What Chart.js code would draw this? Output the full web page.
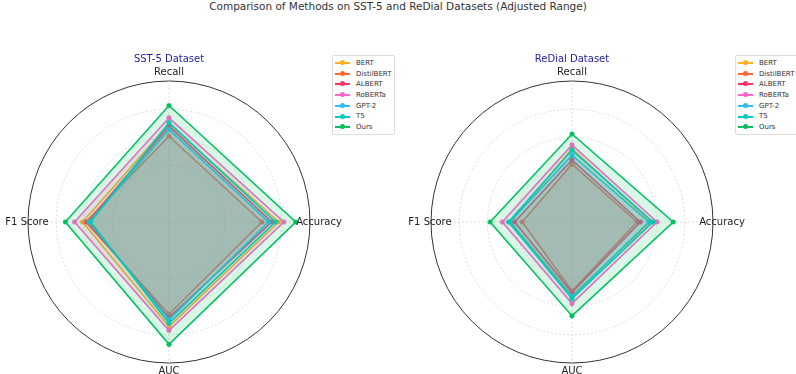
<!DOCTYPE html>
<html>
<head>
<meta charset="utf-8">
<script src="https://cdn.jsdelivr.net/npm/chart.js@4.4.1/dist/chart.umd.min.js"></script>
<style>
  body { margin: 0; background: #fff; font-family: "DejaVu Sans", sans-serif; }
  #page { position: relative; width: 796px; height: 374px; overflow: hidden; }
  .box { position: absolute; top: 0; width: 398px; height: 374px; }
  #title { position: absolute; left: 0; top: 0; width: 796px; text-align: center; font-size: 10.5px; color: #333; }
  .sub { position: absolute; width: 200px; text-align: center; font-size: 10px; color: #1f1f9a; }
  .legend { position: absolute; border: 1px solid #ddd; border-radius: 2px; background: #fff; padding: 2px 3px 1px 2px; font-size: 7px; color: #333; }
  .row { height: 10.7px; line-height: 10.7px; white-space: nowrap; }
  .sw { position: relative; display: inline-block; width: 15px; height: 2px; vertical-align: middle; margin-right: 6px; }
  .dot { position: absolute; left: 5px; top: -2px; width: 5px; height: 5px; border-radius: 50%; }
</style>
</head>
<body>
<div id="page">
  <div id="title">Comparison of Methods on SST-5 and ReDial Datasets (Adjusted Range)</div>
  <div class="box" style="left:0"><canvas id="c1"></canvas></div>
  <div class="box" style="left:398px"><canvas id="c2"></canvas></div>
  <div class="sub" style="left:69px; top:53px">SST-5 Dataset</div>
  <div class="sub" style="left:472px; top:53px">ReDial Dataset</div>
  <div class="legend" id="leg1" style="left:332px; top:55px"></div>
  <div class="legend" id="leg2" style="left:735px; top:55px"></div>
</div>
<script>
let axesLabels = ["Recall", "Accuracy", "AUC", "F1 Score"]
let methods = ["BERT", "DistilBERT", "ALBERT", "RoBERTa", "GPT-2", "T5", "Ours"]
let colors = ["#FFB020", "#FF6633", "#FF3366", "#FF66CC", "#33BBEE", "#00CCC0", "#00C060"]

// values per method, in the order of axesLabels
let sst5 = [
    [0.695, 0.778, 0.741, 0.613],
    [0.608, 0.659, 0.654, 0.590],
    [0.680, 0.728, 0.678, 0.578],
    [0.739, 0.815, 0.770, 0.670],
    [0.657, 0.706, 0.694, 0.566],
    [0.705, 0.755, 0.718, 0.556],
    [0.826, 0.899, 0.868, 0.735]
]
let redial = [
    [0.520, 0.560, 0.520, 0.435],
    [0.410, 0.462, 0.489, 0.353],
    [0.441, 0.485, 0.500, 0.407],
    [0.547, 0.603, 0.579, 0.494],
    [0.474, 0.545, 0.530, 0.440],
    [0.510, 0.574, 0.544, 0.450],
    [0.624, 0.718, 0.666, 0.581]
]
let rTicks = [0.2, 0.4, 0.6, 0.8, 1.0]

function hexA(hex, a) {
    let n = parseInt(hex.slice(1), 16)
    return "rgba(" + (n >> 16) + "," + ((n >> 8) & 255) + "," + (n & 255) + "," + a + ")"
}

// angle labels drawn centred around the outer ring, like matplotlib does
let labelGap = [9, 9, 8, 1]
let axisLabelPlugin = {
    id: "axisLabels",
    afterDraw(chart) {
        let r = chart.scales.r
        let ctx = chart.ctx
        ctx.save()
        ctx.font = "10px 'DejaVu Sans'"
        ctx.fillStyle = "#222"
        ctx.textAlign = "center"
        ctx.textBaseline = "middle"
        axesLabels.forEach((l, i) => {
            let p = r.getPointPosition(i, r.drawingArea + labelGap[i])
            ctx.fillText(l, p.x, p.y)
        })
        ctx.restore()
    }
}

function makeRadar(id, values, pad) {
    let datasets = methods.map((m, i) => ({
        label: m,
        data: values[i],
        borderColor: colors[i],
        backgroundColor: hexA(colors[i], 0.15),
        pointBackgroundColor: colors[i],
        pointBorderColor: colors[i],
        pointRadius: 2.3,
        pointBorderWidth: 0.5,
        borderWidth: 1.6,
        fill: true,
        order: methods.length - i
    }))
    return new Chart(document.getElementById(id), {
        type: "radar",
        data: { labels: axesLabels, datasets: datasets },
        options: {
            responsive: false,
            animation: false,
            layout: { padding: pad },
            plugins: { legend: { display: false }, tooltip: { enabled: false } },
            elements: { line: { tension: 0 } },
            scales: {
                r: {
                    min: 0,
                    max: 1,
                    afterBuildTicks: (s) => { s.ticks = rTicks.map(v => ({ value: v })) },
                    ticks: { display: false },
                    pointLabels: { display: false },
                    grid: {
                        circular: true,
                        color: (c) => c.tick && c.tick.value >= 1 ? "#333" : "#d6d6d6",
                        lineWidth: (c) => c.tick && c.tick.value >= 1 ? 1 : 0.8
                    },
                    border: { dash: (c) => c.tick && c.tick.value >= 1 ? [] : [2, 2] },
                    angleLines: { color: "#d6d6d6", lineWidth: 0.8, borderDash: [2, 2] }
                }
            }
        },
        plugins: [axisLabelPlugin]
    })
}

function buildLegend(id) {
    let el = document.getElementById(id)
    el.innerHTML = methods.map((m, i) =>
        '<div class="row"><span class="sw" style="background:' + colors[i] + '"><span class="dot" style="background:' +
        colors[i] + '"></span></span>' + m + '</div>').join("")
}

for (let id of ["c1", "c2"]) {
    let c = document.getElementById(id)
    c.width = 398
    c.height = 374
}

makeRadar("c1", sst5, { left: 28, right: 88, top: 81, bottom: 11 })
makeRadar("c2", redial, { left: 33, right: 83, top: 81, bottom: 11 })
buildLegend("leg1")
buildLegend("leg2")
</script>
</body>
</html>
